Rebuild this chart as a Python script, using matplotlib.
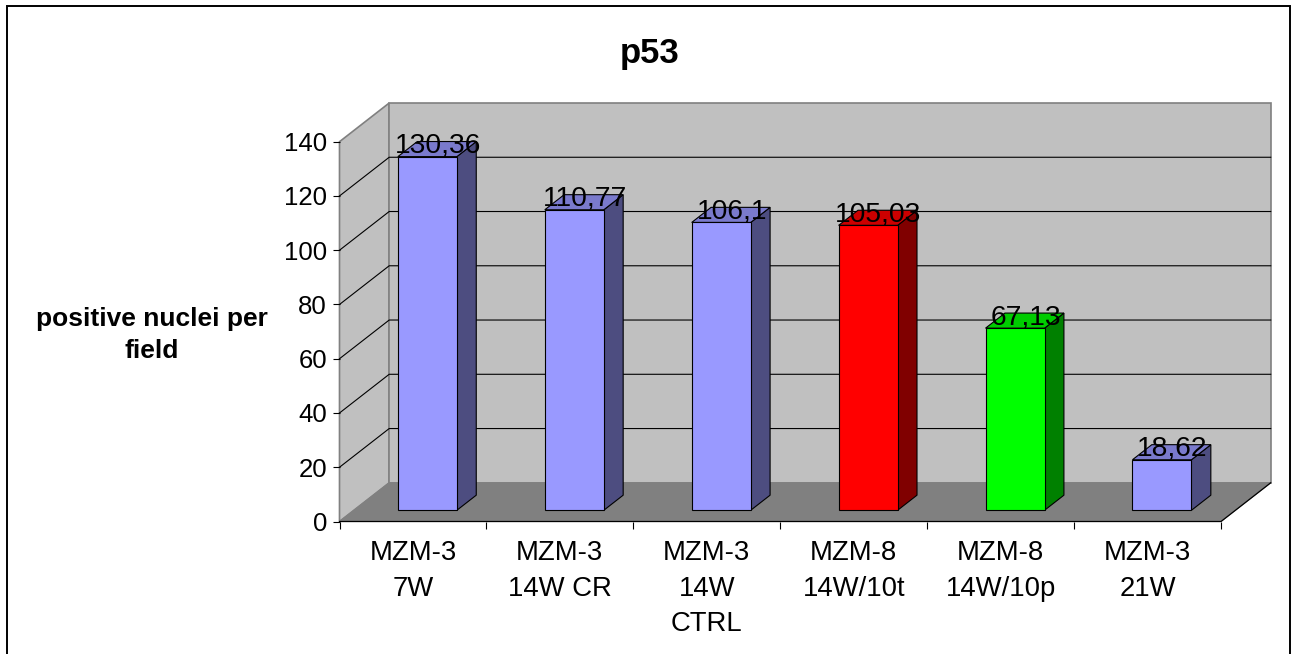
import matplotlib
matplotlib.use('Agg')
import matplotlib.pyplot as plt
from matplotlib.patches import Polygon, Rectangle

plt.rcParams['font.family'] = ['Liberation Sans', 'DejaVu Sans']

categories = ['MZM-3\n7W', 'MZM-3\n14W CR', 'MZM-3\n14W\nCTRL', 'MZM-8\n14W/10t', 'MZM-8\n14W/10p', 'MZM-3\n21W']
values = [130.36, 110.77, 106.1, 105.03, 67.13, 18.62]
value_labels = ['130,36', '110,77', '106,1', '105,03', '67,13', '18,62']
front_colors = ['#9999FF', '#9999FF', '#9999FF', '#FF0000', '#00FF00', '#9999FF']
top_colors = ['#7A7ACC', '#7A7ACC', '#7A7ACC', '#CC0000', '#00CC00', '#7A7ACC']
side_colors = ['#4D4D80', '#4D4D80', '#4D4D80', '#800000', '#008000', '#4D4D80']
y_ticks = [0, 20, 40, 60, 80, 100, 120, 140]

W, H = 1292, 654
LEFT, RIGHT, BOTTOM, TOP = 339.5, 1221.0, 521.5, 141.7  # front plane in pixels

fig = plt.figure(figsize=(W / 100, H / 100), dpi=100)
fig.patch.set_facecolor('white')
ax = fig.add_axes([LEFT / W, 1 - BOTTOM / H, (RIGHT - LEFT) / W, (BOTTOM - TOP) / H])
ax.set_xlim(0, len(categories))
ax.set_ylim(0, 140)
ax.patch.set_visible(False)

# how far the back wall is shifted from the front plane, in data units
DX = 49.7 / ((RIGHT - LEFT) / len(categories))
DY = 38.7 / ((BOTTOM - TOP) / 140)
BAR_W = 59.0 / ((RIGHT - LEFT) / len(categories))
D0, D1 = 0.29, 0.68


def pr(x, y, d):
    return (x + d * DX, y + d * DY)


def face(pts, fc, ec, lw=0.8, z=2):
    ax.add_patch(Polygon(pts, closed=True, facecolor=fc, edgecolor=ec, linewidth=lw,
                         clip_on=False, zorder=z, joinstyle='miter'))


n = len(categories)
# walls and floor
face([pr(0, 0, 0), pr(0, 0, 1), pr(0, 140, 1), pr(0, 140, 0)], '#C0C0C0', '#808080', 1.2, 1)
face([pr(0, 0, 1), pr(n, 0, 1), pr(n, 140, 1), pr(0, 140, 1)], '#C0C0C0', '#808080', 1.2, 1)
face([pr(0, 0, 0), pr(n, 0, 0), pr(n, 0, 1), pr(0, 0, 1)], '#808080', '#808080', 0.8, 1)

# grid
for v in y_ticks[1:-1]:
    xs, ys = zip(pr(0, v, 0), pr(0, v, 1), pr(n, v, 1))
    ax.plot(xs, ys, color='black', lw=0.8, clip_on=False, zorder=1.5)

# floor front and right edges
xs, ys = zip(pr(0, 0, 0), pr(n, 0, 0), pr(n, 0, 1))
ax.plot(xs, ys, color='black', lw=0.9, clip_on=False, zorder=1.6)

# bars
for i, v in enumerate(values):
    x0 = i + 0.5 - BAR_W / 2
    x1 = i + 0.5 + BAR_W / 2
    face([pr(x1, 0, D0), pr(x1, 0, D1), pr(x1, v, D1), pr(x1, v, D0)], side_colors[i], 'black')
    face([pr(x0, v, D0), pr(x1, v, D0), pr(x1, v, D1), pr(x0, v, D1)], top_colors[i], 'black')
    face([pr(x0, 0, D0), pr(x1, 0, D0), pr(x1, v, D0), pr(x0, v, D0)], front_colors[i], 'black')
    ax.annotate(value_labels[i], pr(i + 0.5, v, 0.5), xytext=(0, 2), textcoords='offset points',
                ha='center', va='center', fontsize=20.3, color='black', zorder=5, annotation_clip=False)

# axes
for s in ['top', 'right', 'left', 'bottom']:
    ax.spines[s].set_visible(False)
ax.set_yticks(y_ticks)
ax.set_xticks(range(n + 1))
ax.set_xticklabels([])
ax.set_xticks([i + 0.5 for i in range(n)], minor=True)
ax.set_xticklabels(categories, minor=True, fontsize=19.8, linespacing=1.47, ha='center', va='top')
ax.tick_params(axis='x', which='major', direction='out', length=5, width=0.8, color='black')
ax.tick_params(axis='x', which='minor', length=0, pad=13.5)
ax.tick_params(axis='y', direction='out', length=5, width=0.8, color='black', labelsize=18.5, pad=4)

fig.text(650 / W, 1 - 54 / H, 'p53', fontsize=25, fontweight='bold', ha='center', va='center')
fig.text(152 / W, 1 - 335 / H, 'positive nuclei per\nfield', fontsize=19, fontweight='bold',
         ha='center', va='center', linespacing=1.4)

# outer frame of the chart area
fig.add_artist(Rectangle((6.5 / W, -0.02), 1283 / W, 1.02 - 5.5 / H, transform=fig.transFigure,
                         fill=False, edgecolor='black', linewidth=1.4))

fig.savefig('out.png', dpi=100)
